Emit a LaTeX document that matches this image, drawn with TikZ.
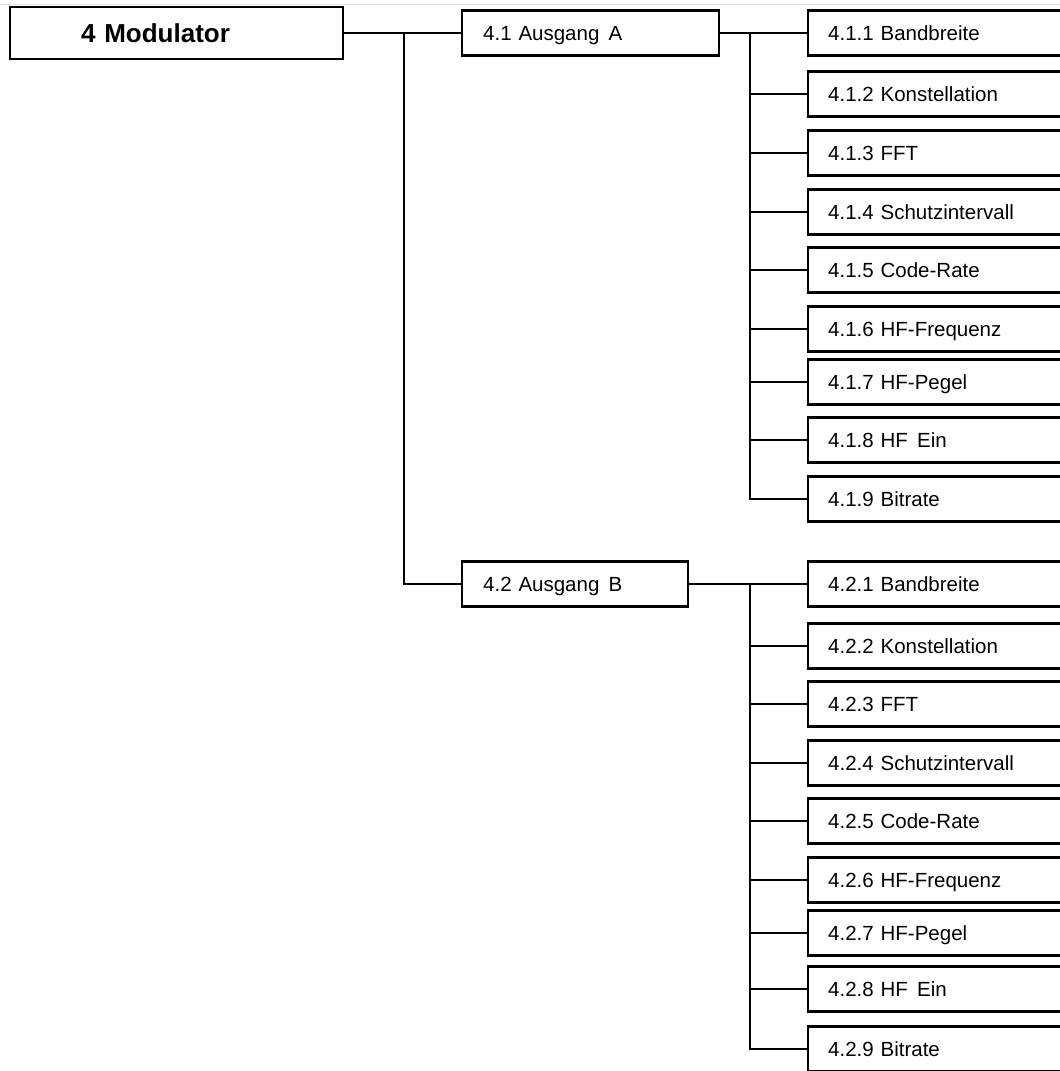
\documentclass[tikz,border=0pt]{standalone}
\usepackage{fontspec}
\setmainfont{Liberation Sans}
\begin{document}
\begin{tikzpicture}[x=1pt,y=-1pt,
  conn/.style={draw=black, line width=2pt},
  basebox/.style={draw=black, line width=2.4pt, rectangle, fill=white, anchor=west,
    align=left, inner ysep=0pt},
  leafbox/.style={basebox, minimum height=45pt, inner xsep=20pt, text width=240pt,
    font=\fontsize{20.5}{24}\selectfont, text height=14.7pt, text depth=0pt},
  midbox/.style={basebox, minimum height=45pt, inner xsep=21pt,
    font=\fontsize{20.5}{24}\selectfont, text height=14.7pt, text depth=0pt},
  rootbox/.style={basebox, minimum height=52pt, inner xsep=71pt, text width=191pt,
    font=\bfseries\fontsize{26}{30}\selectfont, text height=18.6pt, text depth=0pt}]
\clip (0,0) rectangle (1060,1071);
\fill[white] (0,0) rectangle (1060,1071);
\draw[black!12, line width=1pt] (0,4) -- (1060,4);

\node[rootbox] (m) at (9,33) {4 Modulator};
\node[midbox, text width=215pt] (a) at (461,33) {4.1 Ausgang\hspace{0.45em}A};
\node[midbox, text width=184pt] (b) at (461,584) {4.2 Ausgang\hspace{0.45em}B};

\foreach \t/\o [count=\i] in {4.1.1 Bandbreite/0, 4.1.2 Konstellation/61, 4.1.3 FFT/120,
  4.1.4 Schutzintervall/179, 4.1.5 Code-Rate/237, 4.1.6 HF-Frequenz/296,
  4.1.7 HF-Pegel/349, 4.1.8 HF\hspace{0.45em}Ein/407, 4.1.9 Bitrate/466}
  \node[leafbox] (a\i) at (807,33+\o) {\t};

\foreach \t/\o [count=\i] in {4.2.1 Bandbreite/0, 4.2.2 Konstellation/62, 4.2.3 FFT/120,
  4.2.4 Schutzintervall/179, 4.2.5 Code-Rate/237, 4.2.6 HF-Frequenz/296,
  4.2.7 HF-Pegel/349, 4.2.8 HF\hspace{0.45em}Ein/405, 4.2.9 Bitrate/465}
  \node[leafbox] (b\i) at (807,584+\o) {\t};

\coordinate (ja) at (404,33);
\coordinate (jb) at (750,33);

\draw[conn] (m.east) -- (a.west);
\draw[conn] (ja) |- (b.west);

\draw[conn] (a.east) -- (a1.west);
\foreach \i in {2,...,9} \draw[conn] (jb) |- (a\i.west);

\draw[conn] (b.east) -- (b1.west);
\foreach \i in {2,...,9} \draw[conn] (b1.west -| jb) |- (b\i.west);
\end{tikzpicture}
\end{document}
